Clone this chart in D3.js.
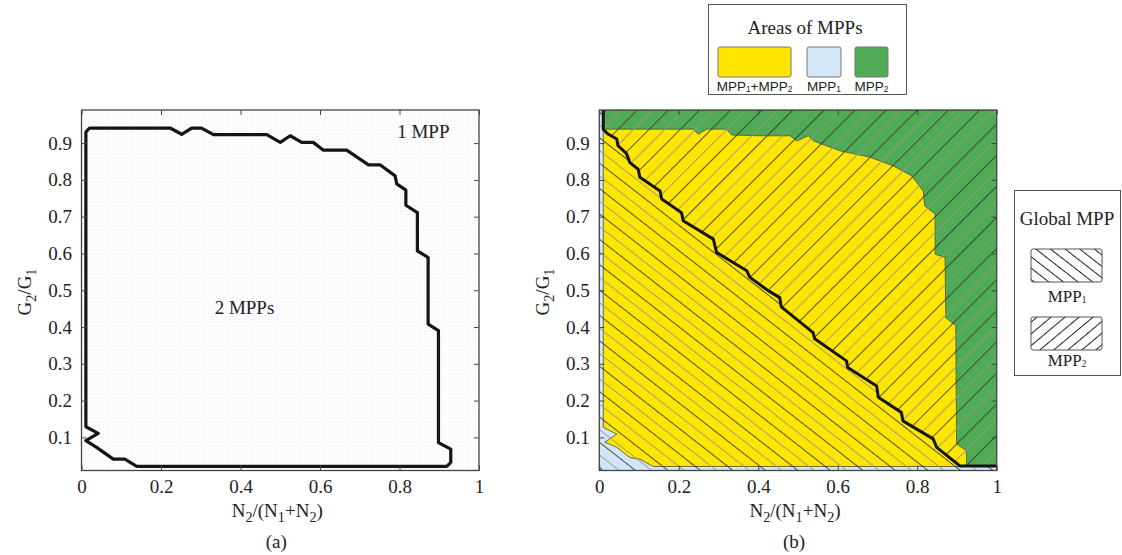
<!DOCTYPE html>
<html>
<head>
<meta charset="utf-8">
<script src="https://cdn.jsdelivr.net/npm/d3@7"></script>
<style>
  body { margin: 0; background: #fff; }
  svg { display: block; }
</style>
</head>
<body>
<svg id="fig" width="1122" height="555"></svg>
<script>
// ---------- data ----------
const xTicks = [0, 0.2, 0.4, 0.6, 0.8, 1];
const xTickLabels = ["0", "0.2", "0.4", "0.6", "0.8", "1"];
const yTicks = [0.1, 0.2, 0.3, 0.4, 0.5, 0.6, 0.7, 0.8, 0.9];
const yTickLabels = ["0.1", "0.2", "0.3", "0.4", "0.5", "0.6", "0.7", "0.8", "0.9"];

// (a) contour enclosing the two-MPP region, [N2/(N1+N2), G2/G1]
const twoMppBoundary = [
  [0.011, 0.93], [0.02, 0.941], [0.223, 0.941], [0.252, 0.924], [0.277, 0.941],
  [0.302, 0.941], [0.332, 0.923], [0.466, 0.923], [0.5, 0.902], [0.525, 0.92],
  [0.554, 0.902], [0.583, 0.902], [0.608, 0.881], [0.667, 0.881], [0.722, 0.841],
  [0.751, 0.841], [0.789, 0.811], [0.793, 0.789], [0.816, 0.772], [0.816, 0.731],
  [0.845, 0.711], [0.845, 0.607], [0.872, 0.589], [0.872, 0.408], [0.898, 0.39],
  [0.898, 0.086], [0.929, 0.068], [0.929, 0.032], [0.919, 0.021], [0.139, 0.021],
  [0.109, 0.041], [0.08, 0.041], [0.038, 0.073], [0.011, 0.091], [0.042, 0.111],
  [0.011, 0.129]
];

// (b) area where both MPPs exist
const bothMppArea = [
  [0.01, 0.127], [0.044, 0.109], [0.014, 0.087], [0.044, 0.073], [0.077, 0.045],
  [0.102, 0.041], [0.136, 0.021], [0.924, 0.021], [0.924, 0.064], [0.899, 0.082],
  [0.897, 0.404], [0.872, 0.425], [0.87, 0.589], [0.845, 0.598], [0.845, 0.707],
  [0.819, 0.729], [0.815, 0.77], [0.786, 0.811], [0.74, 0.838], [0.68, 0.862],
  [0.606, 0.879], [0.539, 0.906], [0.526, 0.92], [0.497, 0.906], [0.48, 0.92],
  [0.404, 0.92], [0.333, 0.922], [0.32, 0.938], [0.27, 0.938], [0.249, 0.924],
  [0.236, 0.938], [0.01, 0.938]
];

// (b) border between global MPP1 (below) and global MPP2 (above)
const globalMppBorder = [
  [0.01, 0.99], [0.01, 0.937], [0.023, 0.924], [0.044, 0.911], [0.047, 0.893],
  [0.068, 0.872], [0.077, 0.847], [0.098, 0.829], [0.102, 0.807], [0.153, 0.77],
  [0.157, 0.748], [0.207, 0.711], [0.211, 0.689], [0.287, 0.639], [0.295, 0.603],
  [0.371, 0.553], [0.379, 0.535], [0.425, 0.499], [0.454, 0.48], [0.458, 0.455],
  [0.538, 0.385], [0.542, 0.368], [0.622, 0.308], [0.625, 0.29], [0.698, 0.24],
  [0.702, 0.209], [0.76, 0.168], [0.764, 0.145], [0.84, 0.096], [0.849, 0.073],
  [0.908, 0.022], [1, 0.022]
];

const areaNames = [
  [["MPP", 0], ["1", 1], ["+MPP", 0], ["2", 1]],
  [["MPP", 0], ["1", 1]],
  [["MPP", 0], ["2", 1]]
];
const areaColors = ["#ffe600", "#d3e6f7", "#4fab55"];
const globalNames = [
  [["MPP", 0], ["1", 1]],
  [["MPP", 0], ["2", 1]]
];

// ---------- setup ----------
const svg = d3.select("#fig");
const SERIF = "'Liberation Serif', 'Times New Roman', serif";
const SANS = "'Liberation Sans', Arial, sans-serif";
const INK = "#222";

const y = d3.scaleLinear([0.01, 0.99], [470.5, 110]);
const xA = d3.scaleLinear([0, 1], [81.5, 479]);
const xB = d3.scaleLinear([0, 1], [599.3, 996.7]);

const defs = svg.append("defs");

function hatch(id, angle, gap, dark, light, width) {
  const p = defs.append("pattern")
    .attr("id", id).attr("patternUnits", "userSpaceOnUse")
    .attr("width", gap * 2).attr("height", 10)
    .attr("patternTransform", `rotate(${angle})`);
  p.append("line").attr("x1", 0.5).attr("x2", 0.5).attr("y1", 0).attr("y2", 10)
    .attr("stroke", dark).attr("stroke-width", width);
  p.append("line").attr("x1", gap + 0.5).attr("x2", gap + 0.5).attr("y1", 0).attr("y2", 10)
    .attr("stroke", light).attr("stroke-width", width);
}
hatch("hatchBack", -52, 10, "#3c3c3c", "#979786", 0.9);
hatch("hatchFwd", 45, 11, "#3c3c3c", "#979786", 0.9);
hatch("legBack", -52, 9, "#222", "#222", 1);
hatch("legFwd", 50, 9, "#222", "#222", 1);

// faint dotted paper texture of panel (a)
const dots = defs.append("pattern").attr("id", "dots")
  .attr("patternUnits", "userSpaceOnUse").attr("width", 3).attr("height", 3);
dots.append("rect").attr("width", 3).attr("height", 3).attr("fill", "#fdfdfe");
dots.append("rect").attr("x", 1).attr("y", 1).attr("width", 1).attr("height", 1).attr("fill", "#f0eff6");

function richText(sel, parts, size, subScale, subShift) {
  let shift = 0;
  parts.forEach(([t, sub]) => {
    const target = sub ? subShift : 0;
    sel.append("tspan")
      .attr("dy", target - shift)
      .attr("font-size", sub ? size * subScale : size)
      .text(t);
    shift = target;
  });
  return sel;
}

function frame(x, id) {
  const g = svg.append("g");
  const [x0, x1] = x.range();
  const [y0, y1] = y.range();
  defs.append("clipPath").attr("id", id)
    .append("rect").attr("x", x0).attr("y", y1).attr("width", x1 - x0).attr("height", y0 - y1);
  return { g, x0, x1, y0, y1 };
}

function axes(x, f) {
  const style = s => {
    s.select(".domain").remove();
    s.selectAll(".tick line").attr("stroke", "#444").attr("stroke-width", 1);
    s.selectAll("text").attr("font-family", SERIF).attr("font-size", 19).attr("fill", INK);
  };
  svg.append("g").attr("transform", `translate(0,${f.y0})`)
    .call(d3.axisBottom(x).tickValues(xTicks).tickSize(-5).tickPadding(9)
      .tickFormat((d, i) => xTickLabels[i])).call(style);
  svg.append("g").attr("transform", `translate(0,${f.y1})`)
    .call(d3.axisTop(x).tickValues(xTicks).tickSize(-5).tickFormat("")).call(style);
  svg.append("g").attr("transform", `translate(${f.x0},0)`)
    .call(d3.axisLeft(y).tickValues(yTicks).tickSize(-5).tickPadding(9.5)
      .tickFormat((d, i) => yTickLabels[i])).call(style);
  svg.append("g").attr("transform", `translate(${f.x1},0)`)
    .call(d3.axisRight(y).tickValues(yTicks).tickSize(-5).tickFormat("")).call(style);
  svg.append("rect").attr("x", f.x0).attr("y", f.y1)
    .attr("width", f.x1 - f.x0).attr("height", f.y0 - f.y1)
    .attr("fill", "none").attr("stroke", "#444").attr("stroke-width", 1.3);
}

function axisTitles(x, cx, tag) {
  const mid = (x.range()[0] + x.range()[1]) / 2;
  const xt = svg.append("text").attr("x", mid - 3).attr("y", 517)
    .attr("text-anchor", "middle").attr("font-family", SERIF).attr("fill", INK);
  richText(xt, [["N", 0], ["2", 1], ["/(N", 0], ["1", 1], ["+N", 0], ["2", 1], [")", 0]], 19, 0.75, 5);
  const yt = svg.append("text")
    .attr("transform", `translate(${cx},292) rotate(-90)`)
    .attr("text-anchor", "middle").attr("font-family", SERIF).attr("fill", INK);
  richText(yt, [["G", 0], ["2", 1], ["/G", 0], ["1", 1]], 19, 0.75, 5);
  svg.append("text").attr("x", mid - 4).attr("y", 548).attr("text-anchor", "middle")
    .attr("font-family", SERIF).attr("font-size", 19).attr("fill", INK).text(tag);
}

// ---------- panel (a) ----------
{
  const f = frame(xA, "clipA");
  const line = d3.line().x(d => xA(d[0])).y(d => y(d[1])).curve(d3.curveLinearClosed);
  f.g.append("rect").attr("x", f.x0).attr("y", f.y1)
    .attr("width", f.x1 - f.x0).attr("height", f.y0 - f.y1).attr("fill", "url(#dots)");
  f.g.append("path").attr("d", line(twoMppBoundary))
    .attr("fill", "none").attr("stroke", "#151515").attr("stroke-width", 3.2)
    .attr("stroke-linejoin", "round");
  svg.append("text").attr("x", xA(0.41)).attr("y", y(0.435))
    .attr("text-anchor", "middle").attr("font-family", SERIF).attr("font-size", 19)
    .attr("fill", INK).text("2 MPPs");
  svg.append("text").attr("x", xA(0.86)).attr("y", y(0.915))
    .attr("text-anchor", "middle").attr("font-family", SERIF).attr("font-size", 19)
    .attr("fill", INK).text("1 MPP");
  axes(xA, f);
  axisTitles(xA, 31, "(a)");
}

// ---------- panel (b) ----------
{
  const f = frame(xB, "clipB");
  const g = f.g.attr("clip-path", "url(#clipB)");
  const poly = d3.line().x(d => xB(d[0])).y(d => y(d[1])).curve(d3.curveLinearClosed);
  const open = d3.line().x(d => xB(d[0])).y(d => y(d[1]));

  // MPP1 only: whole plane underneath
  g.append("rect").attr("x", f.x0).attr("y", f.y1)
    .attr("width", f.x1 - f.x0).attr("height", f.y0 - f.y1).attr("fill", areaColors[1]);
  // MPP2 only: above the global border
  const above = globalMppBorder.concat([[1, 0.99]]);
  g.append("path").attr("d", poly(above)).attr("fill", areaColors[2])
    .attr("stroke", "#3d6e3d").attr("stroke-width", 0.8);
  // both MPPs
  g.append("path").attr("d", poly(bothMppArea)).attr("fill", areaColors[0])
    .attr("stroke", "#5b5b3a").attr("stroke-width", 0.9);
  // global MPP hatching
  const below = [[0, 0.99]].concat(globalMppBorder, [[1, 0.01], [0, 0.01]]);
  g.append("path").attr("d", poly(below)).attr("fill", "url(#hatchBack)");
  g.append("path").attr("d", poly(above)).attr("fill", "url(#hatchFwd)");
  // border line
  g.append("path").attr("d", open(globalMppBorder))
    .attr("fill", "none").attr("stroke", "#151515").attr("stroke-width", 3)
    .attr("stroke-linejoin", "round");
  axes(xB, f);
  axisTitles(xB, 549, "(b)");
}

// ---------- legend: areas of MPPs ----------
{
  const lg = svg.append("g");
  lg.append("rect").attr("x", 708.5).attr("y", 4.5).attr("width", 198).attr("height", 90)
    .attr("fill", "#fff").attr("stroke", "#555").attr("stroke-width", 1);
  lg.append("text").attr("x", 805).attr("y", 34).attr("text-anchor", "middle")
    .attr("font-family", SERIF).attr("font-size", 19).attr("fill", INK).text("Areas of MPPs");
  const sw = [[718, 73], [807, 34], [855, 33]];
  sw.forEach(([sx, w], i) => {
    lg.append("rect").attr("x", sx).attr("y", 47).attr("width", w).attr("height", 30)
      .attr("rx", 2).attr("fill", areaColors[i]).attr("stroke", "#777").attr("stroke-width", 1);
    const t = lg.append("text").attr("x", sx + w / 2).attr("y", 91).attr("text-anchor", "middle")
      .attr("font-family", SANS).attr("fill", INK);
    richText(t, areaNames[i], 13.5, 0.62, 1);
  });
}

// ---------- legend: global MPP ----------
{
  const lg = svg.append("g");
  lg.append("rect").attr("x", 1014.5).attr("y", 190.5).attr("width", 106).attr("height", 185)
    .attr("fill", "#fff").attr("stroke", "#555").attr("stroke-width", 1);
  lg.append("text").attr("x", 1067).attr("y", 225).attr("text-anchor", "middle")
    .attr("font-family", SERIF).attr("font-size", 19).attr("fill", INK).text("Global MPP");
  const boxes = [[249, "legBack", 302], [317, "legFwd", 366]];
  boxes.forEach(([by, pat, ty], i) => {
    lg.append("rect").attr("x", 1031).attr("y", by).attr("width", 71).attr("height", 33)
      .attr("rx", 2).attr("fill", "#fff").attr("stroke", "none");
    lg.append("rect").attr("x", 1031).attr("y", by).attr("width", 71).attr("height", 33)
      .attr("rx", 2).attr("fill", `url(#${pat})`).attr("stroke", "#555").attr("stroke-width", 1);
    const t = lg.append("text").attr("x", 1067).attr("y", ty).attr("text-anchor", "middle")
      .attr("font-family", SERIF).attr("fill", INK);
    richText(t, globalNames[i], 17, 0.55, 1);
  });
}
</script>
</body>
</html>
